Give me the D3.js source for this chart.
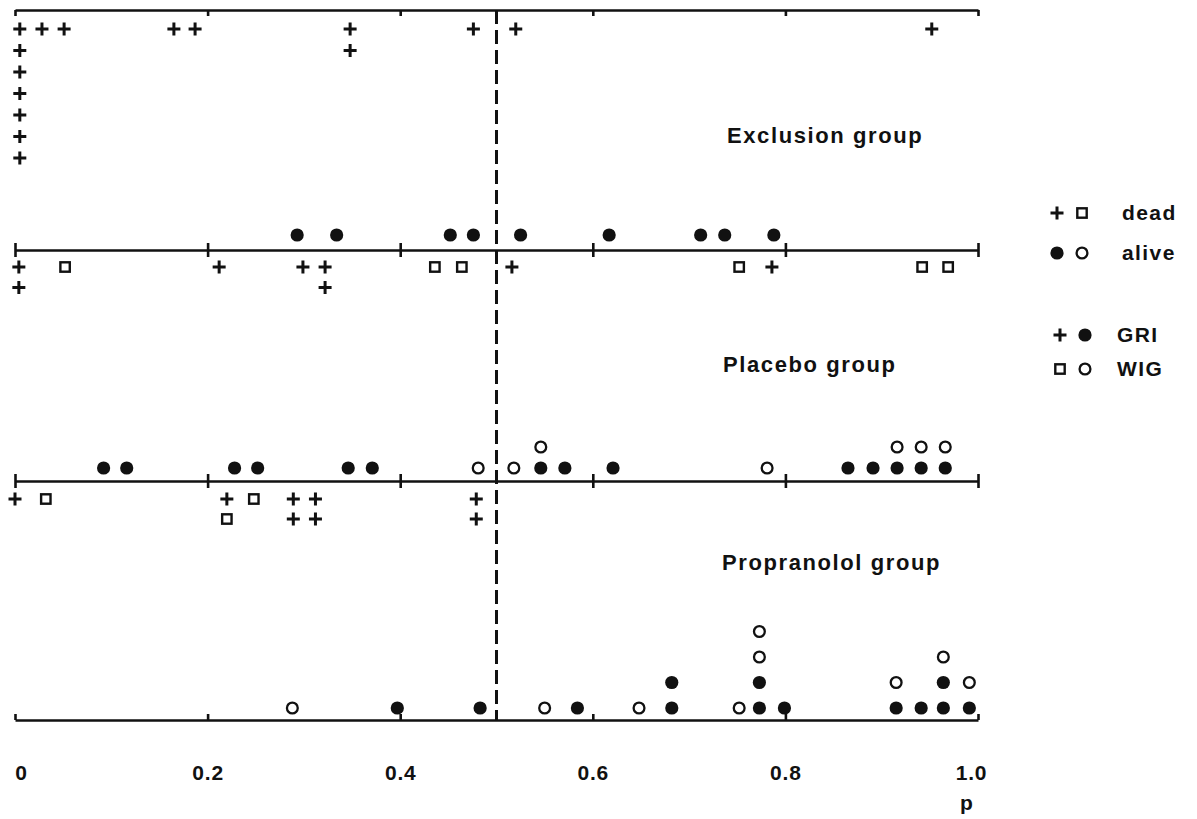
<!DOCTYPE html>
<html><head><meta charset="utf-8">
<script src="https://cdn.jsdelivr.net/npm/d3@7"></script>
<style>body{margin:0;background:#fff}svg{display:block}</style>
</head><body><svg id="chart" width="1197" height="819"></svg>
<script>
// ---------- data ----------
const tickValues = [0, 0.2, 0.4, 0.6, 0.8, 1.0];
const tickLabels = ["0", "0.2", "0.4", "0.6", "0.8", "1.0"];
const groupNames = ["Exclusion group", "Placebo group", "Propranolol group"];
const cutoff = 0.5;
const axisTitle = "p";
const legendStatus = ["dead", "alive"];
const legendStudy = ["GRI", "WIG"];

// each entry: [study, p]; identical p values stack in array order
const exclusionDead = [
  ["GRI",0.005],["GRI",0.005],["GRI",0.005],["GRI",0.005],["GRI",0.005],["GRI",0.005],["GRI",0.005],
  ["GRI",0.028],["GRI",0.051],["GRI",0.165],["GRI",0.187],["GRI",0.348],["GRI",0.348],
  ["GRI",0.476],["GRI",0.520],["GRI",0.952]
];
const exclusionAlive = [
  ["GRI",0.293],["GRI",0.334],["GRI",0.452],["GRI",0.476],["GRI",0.525],
  ["GRI",0.617],["GRI",0.712],["GRI",0.737],["GRI",0.788]
];
const placeboDead = [
  ["GRI",0.004],["GRI",0.004],["WIG",0.052],["GRI",0.212],["GRI",0.299],["GRI",0.322],["GRI",0.322],
  ["WIG",0.436],["WIG",0.464],["GRI",0.516],["WIG",0.752],["GRI",0.786],["WIG",0.942],["WIG",0.969]
];
const placeboAlive = [
  ["GRI",0.092],["GRI",0.116],["GRI",0.228],["GRI",0.252],["GRI",0.346],["GRI",0.371],
  ["WIG",0.481],["WIG",0.518],["GRI",0.546],["WIG",0.546],["GRI",0.571],["GRI",0.621],["WIG",0.781],
  ["GRI",0.865],["GRI",0.891],["GRI",0.916],["WIG",0.916],["GRI",0.941],["WIG",0.941],["GRI",0.966],["WIG",0.966]
];
const propranololDead = [
  ["GRI",0.000],["WIG",0.032],["GRI",0.220],["WIG",0.220],["WIG",0.248],["GRI",0.289],["GRI",0.289],
  ["GRI",0.312],["GRI",0.312],["GRI",0.479],["GRI",0.479]
];
const propranololAlive = [
  ["WIG",0.288],["GRI",0.397],["GRI",0.483],["WIG",0.550],["GRI",0.584],["WIG",0.648],
  ["GRI",0.682],["GRI",0.682],["WIG",0.752],["GRI",0.773],["GRI",0.773],["WIG",0.773],["WIG",0.773],
  ["GRI",0.799],["GRI",0.915],["WIG",0.915],["GRI",0.941],["GRI",0.964],["GRI",0.964],["WIG",0.964],
  ["GRI",0.991],["WIG",0.991]
];

// ---------- layout ----------
const svg = d3.select("#chart");
const FONT = "'Liberation Sans', Arial, Helvetica, sans-serif";
const INK = "#111";
const x = d3.scaleLinear().domain([0, 1]).range([15, 978]);
const axisY = [10, 250, 481, 720];

function stack(arr) {
  const counts = new Map();
  return arr.map(([study, p]) => {
    const k = p.toFixed(3);
    const level = counts.get(k) || 0;
    counts.set(k, level + 1);
    return { study, p, level };
  });
}

function marker(g, type, cx, cy) {
  if (type === "plus") {
    g.append("path").attr("d", `M${cx-6.5},${cy}H${cx+6.5}M${cx},${cy-6.5}V${cy+6.5}`)
      .attr("stroke", INK).attr("stroke-width", 3).attr("fill", "none");
  } else if (type === "square") {
    g.append("rect").attr("x", cx-4.7).attr("y", cy-4.7).attr("width", 9.4).attr("height", 9.4)
      .attr("fill", "none").attr("stroke", INK).attr("stroke-width", 2.4);
  } else if (type === "dot") {
    g.append("circle").attr("cx", cx).attr("cy", cy).attr("r", 6.6).attr("fill", INK);
  } else {
    g.append("circle").attr("cx", cx).attr("cy", cy).attr("r", 5.4).attr("fill", "none")
      .attr("stroke", INK).attr("stroke-width", 2.3);
  }
}
const typeOf = (status, study) =>
  status === "dead" ? (study === "GRI" ? "plus" : "square") : (study === "GRI" ? "dot" : "ring");

const sections = [
  { data: exclusionDead,    status: "dead",  axis: 0, dir: 1,  off: 19, step: 21.5 },
  { data: exclusionAlive,   status: "alive", axis: 1, dir: -1, off: 15, step: 21 },
  { data: placeboDead,      status: "dead",  axis: 1, dir: 1,  off: 17, step: 20.5 },
  { data: placeboAlive,     status: "alive", axis: 2, dir: -1, off: 13, step: 21 },
  { data: propranololDead,  status: "dead",  axis: 2, dir: 1,  off: 18, step: 20 },
  { data: propranololAlive, status: "alive", axis: 3, dir: -1, off: 12, step: 25.5 }
];

// axes
svg.append("g").attr("transform", `translate(0,${axisY[0]})`)
  .call(d3.axisBottom(x).tickValues(tickValues).tickSizeInner(6).tickSizeOuter(0).tickFormat(""));
[1, 2].forEach(i => {
  const g = svg.append("g").attr("transform", `translate(0,${axisY[i]})`)
    .call(d3.axisBottom(x).tickValues(tickValues).tickSizeInner(7).tickSizeOuter(0).tickFormat(""));
  g.selectAll(".tick line").attr("y1", -7);
});
const gBot = svg.append("g").attr("transform", `translate(0,${axisY[3]})`)
  .call(d3.axisBottom(x).tickValues(tickValues).tickSizeInner(-6).tickSizeOuter(0).tickPadding(45)
    .tickFormat((d, i) => tickLabels[i]));
svg.selectAll(".domain").attr("stroke", INK).attr("stroke-width", 2.6);
svg.selectAll(".tick line").attr("stroke", INK).attr("stroke-width", 2.6);
gBot.selectAll(".tick text")
  .attr("font-family", FONT).attr("font-weight", "bold").attr("font-size", 21)
  .attr("fill", INK).attr("letter-spacing", 0.8)
  .attr("dx", (d, i) => i === 0 ? 6 : (i === tickValues.length - 1 ? -7 : 0));

// dashed cutoff line
svg.append("line").attr("x1", x(cutoff)).attr("x2", x(cutoff))
  .attr("y1", axisY[0]).attr("y2", axisY[3])
  .attr("stroke", INK).attr("stroke-width", 3).attr("stroke-dasharray", "14,6");

// points
const gp = svg.append("g");
sections.forEach(s => {
  stack(s.data).forEach(d => {
    const cy = axisY[s.axis] + s.dir * (s.off + d.level * s.step);
    marker(gp, typeOf(s.status, d.study), x(d.p), cy);
  });
});

// group labels
const labelPos = [[727, 143], [723, 372], [722, 570]];
groupNames.forEach((t, i) => {
  svg.append("text").attr("x", labelPos[i][0]).attr("y", labelPos[i][1]).text(t)
    .attr("font-family", FONT).attr("font-weight", "bold").attr("font-size", 22)
    .attr("letter-spacing", 1.6).attr("fill", INK);
});

// axis title
svg.append("text").attr("x", 960).attr("y", 810).text(axisTitle)
  .attr("font-family", FONT).attr("font-weight", "bold").attr("font-size", 21).attr("fill", INK);

// legend
const lg = svg.append("g");
const legendRows = [
  { y: 213, types: ["plus", "square"], text: legendStatus[0], tx: 1122, sx: [1057, 1082] },
  { y: 253, types: ["dot", "ring"],    text: legendStatus[1], tx: 1122, sx: [1057, 1082] },
  { y: 335, types: ["plus", "dot"],    text: legendStudy[0],  tx: 1117, sx: [1060, 1085] },
  { y: 369, types: ["square", "ring"], text: legendStudy[1],  tx: 1117, sx: [1060, 1085] }
];
legendRows.forEach(r => {
  r.types.forEach((t, j) => marker(lg, t, r.sx[j], r.y));
  lg.append("text").attr("x", r.tx).attr("y", r.y + 7).text(r.text)
    .attr("font-family", FONT).attr("font-weight", "bold").attr("font-size", 21)
    .attr("letter-spacing", 1.4).attr("fill", INK);
});
</script>
</body></html>
